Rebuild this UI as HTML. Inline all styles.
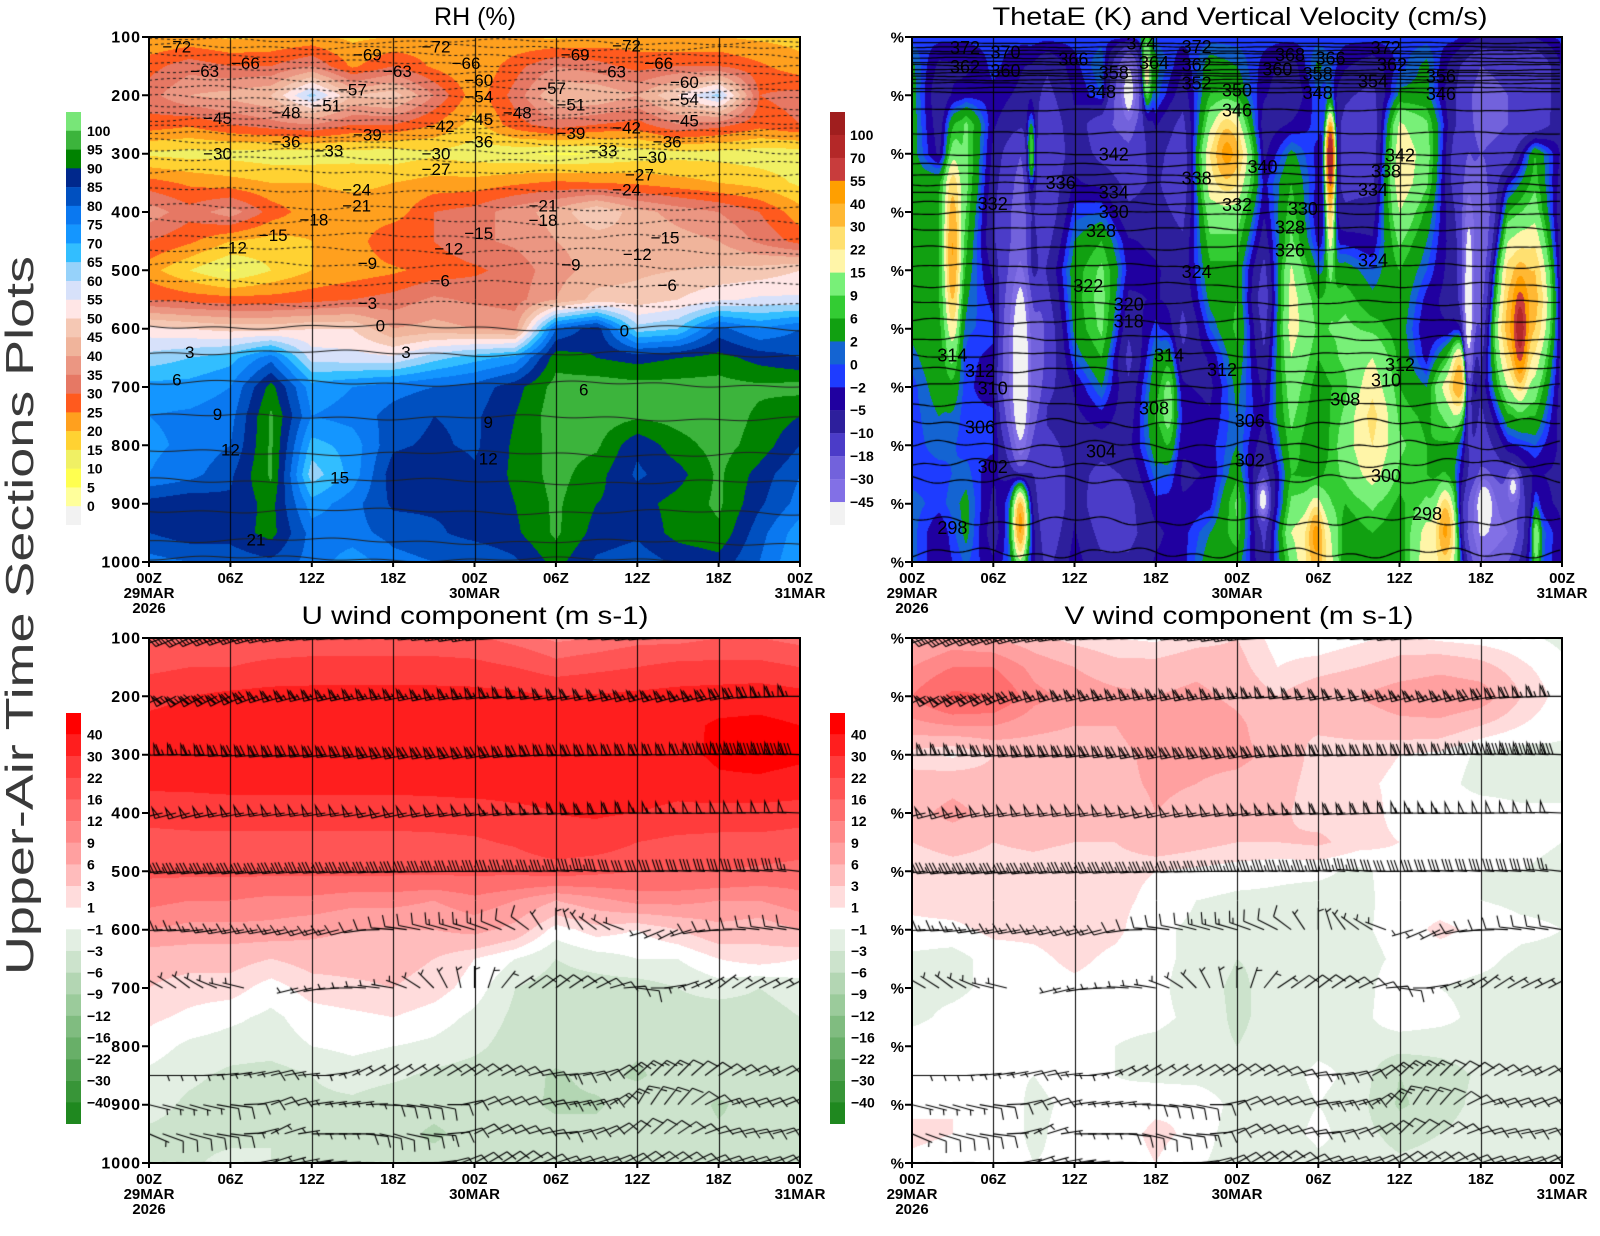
<!DOCTYPE html>
<html><head><meta charset="utf-8">
<style>
html,body{margin:0;padding:0;background:#fff}
#wrap{position:relative;width:1600px;height:1236px;overflow:hidden;background:#fff}
canvas{position:absolute}
svg{position:absolute;left:0;top:0}
text{font-family:"Liberation Sans",Arial,sans-serif;fill:#000}
.tk{font-weight:bold;font-size:16px;letter-spacing:1px}
.pc{font-weight:bold;font-size:15px}
.xl{font-weight:bold;font-size:15px}
.cb{font-weight:bold;font-size:14px}
.cl{font-size:17px}
.th{font-size:18px}
.ti{font-size:25px}
</style></head><body><div id="wrap">
<canvas id="c1" width="651" height="525" style="left:149px;top:37px"></canvas>
<canvas id="c2" width="650" height="525" style="left:912px;top:37px"></canvas>
<canvas id="c3" width="651" height="525" style="left:149px;top:638px"></canvas>
<canvas id="c4" width="650" height="525" style="left:912px;top:638px"></canvas>
<svg width="1600" height="1236" viewBox="0 0 1600 1236">
<g fill="none" stroke="#000" stroke-width="2">
<rect x="149" y="37" width="651" height="525"/>
<rect x="912" y="37" width="650" height="525"/>
<rect x="149" y="638" width="651" height="525"/>
<rect x="912" y="638" width="650" height="525"/>
</g>
<g stroke="#000" stroke-width="2">
<path d="M142,37h7M142,95.3h7M142,153.7h7M142,212h7M142,270.3h7M142,328.7h7M142,387h7M142,445.3h7M142,503.7h7M142,562h7"/>
<path d="M905,37h7M905,95.3h7M905,153.7h7M905,212h7M905,270.3h7M905,328.7h7M905,387h7M905,445.3h7M905,503.7h7M905,562h7"/>
<path d="M142,638h7M142,696.3h7M142,754.7h7M142,813h7M142,871.3h7M142,929.7h7M142,988h7M142,1046.3h7M142,1104.7h7M142,1163h7"/>
<path d="M905,638h7M905,696.3h7M905,754.7h7M905,813h7M905,871.3h7M905,929.7h7M905,988h7M905,1046.3h7M905,1104.7h7M905,1163h7"/>
<path d="M149,562v5M230.4,562v5M311.8,562v5M393.1,562v5M474.5,562v5M555.9,562v5M637.3,562v5M718.6,562v5M800,562v5"/>
<path d="M912,562v5M993.3,562v5M1074.5,562v5M1155.8,562v5M1237,562v5M1318.3,562v5M1399.5,562v5M1480.8,562v5M1562,562v5"/>
<path d="M149,1163v5M230.4,1163v5M311.8,1163v5M393.1,1163v5M474.5,1163v5M555.9,1163v5M637.3,1163v5M718.6,1163v5M800,1163v5"/>
<path d="M912,1163v5M993.3,1163v5M1074.5,1163v5M1155.8,1163v5M1237,1163v5M1318.3,1163v5M1399.5,1163v5M1480.8,1163v5M1562,1163v5"/>
</g>
<g>
<rect x="66" y="112" width="15" height="19" fill="#78e678"/><rect x="66" y="130.77" width="15" height="19" fill="#3cb43c"/><rect x="66" y="149.55" width="15" height="19" fill="#008200"/><rect x="66" y="168.32" width="15" height="19" fill="#00288c"/><rect x="66" y="187.09" width="15" height="19" fill="#0050c0"/><rect x="66" y="205.86" width="15" height="19" fill="#0a78f0"/><rect x="66" y="224.64" width="15" height="19" fill="#1496ff"/><rect x="66" y="243.41" width="15" height="19" fill="#32beff"/><rect x="66" y="262.18" width="15" height="19" fill="#96d2fa"/><rect x="66" y="280.95" width="15" height="19" fill="#d7e1fa"/><rect x="66" y="299.73" width="15" height="19" fill="#ffe6e6"/><rect x="66" y="318.5" width="15" height="19" fill="#f5c8b4"/><rect x="66" y="337.27" width="15" height="19" fill="#f0b49b"/><rect x="66" y="356.05" width="15" height="19" fill="#eb9682"/><rect x="66" y="374.82" width="15" height="19" fill="#e67864"/><rect x="66" y="393.59" width="15" height="19" fill="#ff5a1e"/><rect x="66" y="412.36" width="15" height="19" fill="#ffa01e"/><rect x="66" y="431.14" width="15" height="19" fill="#ffd232"/><rect x="66" y="449.91" width="15" height="19" fill="#f0f064"/><rect x="66" y="468.68" width="15" height="19" fill="#ffff50"/><rect x="66" y="487.45" width="15" height="19" fill="#ffff9b"/><rect x="66" y="506.23" width="15" height="18.77" fill="#f2f2f2"/>
</g>
<g>
<rect x="830" y="112" width="15" height="23.1" fill="#a01e1e"/><rect x="830" y="134.94" width="15" height="23.1" fill="#b42828"/><rect x="830" y="157.89" width="15" height="23.1" fill="#c83c3c"/><rect x="830" y="180.83" width="15" height="23.1" fill="#ff9f00"/><rect x="830" y="203.78" width="15" height="23.1" fill="#ffb833"/><rect x="830" y="226.72" width="15" height="23.1" fill="#ffe070"/><rect x="830" y="249.67" width="15" height="23.1" fill="#fff5a8"/><rect x="830" y="272.61" width="15" height="23.1" fill="#78f078"/><rect x="830" y="295.56" width="15" height="23.1" fill="#33cc33"/><rect x="830" y="318.5" width="15" height="23.1" fill="#11a011"/><rect x="830" y="341.44" width="15" height="23.1" fill="#1464d2"/><rect x="830" y="364.39" width="15" height="23.1" fill="#1e3cff"/><rect x="830" y="387.33" width="15" height="23.1" fill="#2000a0"/><rect x="830" y="410.28" width="15" height="23.1" fill="#2d1f9c"/><rect x="830" y="433.22" width="15" height="23.1" fill="#4b3cc8"/><rect x="830" y="456.17" width="15" height="23.1" fill="#7262dc"/><rect x="830" y="479.11" width="15" height="23.1" fill="#8270e6"/><rect x="830" y="502.06" width="15" height="22.94" fill="#f2f2f2"/>
</g>
<g>
<rect x="66" y="713" width="15" height="21.8" fill="#ff0000"/><rect x="66" y="734.63" width="15" height="21.8" fill="#ff1e1e"/><rect x="66" y="756.26" width="15" height="21.8" fill="#ff3c3c"/><rect x="66" y="777.89" width="15" height="21.8" fill="#ff5555"/><rect x="66" y="799.53" width="15" height="21.8" fill="#ff6e6e"/><rect x="66" y="821.16" width="15" height="21.8" fill="#ff8888"/><rect x="66" y="842.79" width="15" height="21.8" fill="#ffa0a0"/><rect x="66" y="864.42" width="15" height="21.8" fill="#ffbcbc"/><rect x="66" y="886.05" width="15" height="21.8" fill="#ffdcdc"/><rect x="66" y="907.68" width="15" height="21.8" fill="#ffffff"/><rect x="66" y="929.32" width="15" height="21.8" fill="#e3efe3"/><rect x="66" y="950.95" width="15" height="21.8" fill="#cce3cc"/><rect x="66" y="972.58" width="15" height="21.8" fill="#b3d6b3"/><rect x="66" y="994.21" width="15" height="21.8" fill="#9bcb9b"/><rect x="66" y="1015.84" width="15" height="21.8" fill="#80bc80"/><rect x="66" y="1037.47" width="15" height="21.8" fill="#68af68"/><rect x="66" y="1059.11" width="15" height="21.8" fill="#50a150"/><rect x="66" y="1080.74" width="15" height="21.8" fill="#389538"/><rect x="66" y="1102.37" width="15" height="21.63" fill="#1f881f"/>
</g>
<g transform="translate(764,0)">
<rect x="66" y="713" width="15" height="21.8" fill="#ff0000"/><rect x="66" y="734.63" width="15" height="21.8" fill="#ff1e1e"/><rect x="66" y="756.26" width="15" height="21.8" fill="#ff3c3c"/><rect x="66" y="777.89" width="15" height="21.8" fill="#ff5555"/><rect x="66" y="799.53" width="15" height="21.8" fill="#ff6e6e"/><rect x="66" y="821.16" width="15" height="21.8" fill="#ff8888"/><rect x="66" y="842.79" width="15" height="21.8" fill="#ffa0a0"/><rect x="66" y="864.42" width="15" height="21.8" fill="#ffbcbc"/><rect x="66" y="886.05" width="15" height="21.8" fill="#ffdcdc"/><rect x="66" y="907.68" width="15" height="21.8" fill="#ffffff"/><rect x="66" y="929.32" width="15" height="21.8" fill="#e3efe3"/><rect x="66" y="950.95" width="15" height="21.8" fill="#cce3cc"/><rect x="66" y="972.58" width="15" height="21.8" fill="#b3d6b3"/><rect x="66" y="994.21" width="15" height="21.8" fill="#9bcb9b"/><rect x="66" y="1015.84" width="15" height="21.8" fill="#80bc80"/><rect x="66" y="1037.47" width="15" height="21.8" fill="#68af68"/><rect x="66" y="1059.11" width="15" height="21.8" fill="#50a150"/><rect x="66" y="1080.74" width="15" height="21.8" fill="#389538"/><rect x="66" y="1102.37" width="15" height="21.63" fill="#1f881f"/>
</g>
<g class="cb">
<text x="87" y="135.8">100</text><text x="87" y="154.5">95</text><text x="87" y="173.3">90</text><text x="87" y="192.1">85</text><text x="87" y="210.9">80</text><text x="87" y="229.6">75</text><text x="87" y="248.4">70</text><text x="87" y="267.2">65</text><text x="87" y="285.9">60</text><text x="87" y="304.7">55</text><text x="87" y="323.5">50</text><text x="87" y="342.2">45</text><text x="87" y="361">40</text><text x="87" y="379.8">35</text><text x="87" y="398.5">30</text><text x="87" y="417.3">25</text><text x="87" y="436.1">20</text><text x="87" y="454.9">15</text><text x="87" y="473.6">10</text><text x="87" y="492.4">5</text><text x="87" y="511.2">0</text>
</g>
<g class="cb">
<text x="850" y="139.9">100</text><text x="850" y="162.9">70</text><text x="850" y="185.8">55</text><text x="850" y="208.8">40</text><text x="850" y="231.7">30</text><text x="850" y="254.6">22</text><text x="850" y="277.6">15</text><text x="850" y="300.5">9</text><text x="850" y="323.5">6</text><text x="850" y="346.4">2</text><text x="850" y="369.3">0</text><text x="850" y="392.3">−2</text><text x="850" y="415.2">−5</text><text x="850" y="438.2">−10</text><text x="850" y="461.1">−18</text><text x="850" y="484">−30</text><text x="850" y="507">−45</text>
</g>
<g class="cb">
<text x="87" y="739.6">40</text><text x="87" y="761.3">30</text><text x="87" y="782.9">22</text><text x="87" y="804.5">16</text><text x="87" y="826.2">12</text><text x="87" y="847.8">9</text><text x="87" y="869.4">6</text><text x="87" y="891">3</text><text x="87" y="912.7">1</text><text x="87" y="934.3">−1</text><text x="87" y="955.9">−3</text><text x="87" y="977.6">−6</text><text x="87" y="999.2">−9</text><text x="87" y="1020.8">−12</text><text x="87" y="1042.5">−16</text><text x="87" y="1064.1">−22</text><text x="87" y="1085.7">−30</text><text x="87" y="1107.3">−40</text>
</g>
<g class="cb">
<text x="851" y="739.6">40</text><text x="851" y="761.3">30</text><text x="851" y="782.9">22</text><text x="851" y="804.5">16</text><text x="851" y="826.2">12</text><text x="851" y="847.8">9</text><text x="851" y="869.4">6</text><text x="851" y="891">3</text><text x="851" y="912.7">1</text><text x="851" y="934.3">−1</text><text x="851" y="955.9">−3</text><text x="851" y="977.6">−6</text><text x="851" y="999.2">−9</text><text x="851" y="1020.8">−12</text><text x="851" y="1042.5">−16</text><text x="851" y="1064.1">−22</text><text x="851" y="1085.7">−30</text><text x="851" y="1107.3">−40</text>
</g>
<g class="tk" text-anchor="end">
<text x="141" y="42.5">100</text><text x="141" y="100.8">200</text><text x="141" y="159.2">300</text><text x="141" y="217.5">400</text><text x="141" y="275.8">500</text><text x="141" y="334.2">600</text><text x="141" y="392.5">700</text><text x="141" y="450.8">800</text><text x="141" y="509.2">900</text><text x="141" y="567.5">1000</text>
<text x="141" y="643.5">100</text><text x="141" y="701.8">200</text><text x="141" y="760.2">300</text><text x="141" y="818.5">400</text><text x="141" y="876.8">500</text><text x="141" y="935.2">600</text><text x="141" y="993.5">700</text><text x="141" y="1051.8">800</text><text x="141" y="1110.2">900</text><text x="141" y="1168.5">1000</text>
</g>
<g class="pc" text-anchor="end">
<text x="904" y="42.5">%</text><text x="904" y="100.8">%</text><text x="904" y="159.2">%</text><text x="904" y="217.5">%</text><text x="904" y="275.8">%</text><text x="904" y="334.2">%</text><text x="904" y="392.5">%</text><text x="904" y="450.8">%</text><text x="904" y="509.2">%</text><text x="904" y="567.5">%</text>
<text x="904" y="643.5">%</text><text x="904" y="701.8">%</text><text x="904" y="760.2">%</text><text x="904" y="818.5">%</text><text x="904" y="876.8">%</text><text x="904" y="935.2">%</text><text x="904" y="993.5">%</text><text x="904" y="1051.8">%</text><text x="904" y="1110.2">%</text><text x="904" y="1168.5">%</text>
</g>
<g class="xl" text-anchor="middle">
<text x="149" y="583">00Z</text><text x="230.4" y="583">06Z</text><text x="311.8" y="583">12Z</text><text x="393.1" y="583">18Z</text><text x="474.5" y="583">00Z</text><text x="555.9" y="583">06Z</text><text x="637.3" y="583">12Z</text><text x="718.6" y="583">18Z</text><text x="800" y="583">00Z</text>
<text x="149" y="598">29MAR</text><text x="149" y="613">2026</text><text x="474.5" y="598">30MAR</text><text x="800" y="598">31MAR</text>
<text x="912" y="583">00Z</text><text x="993.3" y="583">06Z</text><text x="1074.5" y="583">12Z</text><text x="1155.8" y="583">18Z</text><text x="1237" y="583">00Z</text><text x="1318.3" y="583">06Z</text><text x="1399.5" y="583">12Z</text><text x="1480.8" y="583">18Z</text><text x="1562" y="583">00Z</text>
<text x="912" y="598">29MAR</text><text x="912" y="613">2026</text><text x="1237" y="598">30MAR</text><text x="1562" y="598">31MAR</text>
<text x="149" y="1184">00Z</text><text x="230.4" y="1184">06Z</text><text x="311.8" y="1184">12Z</text><text x="393.1" y="1184">18Z</text><text x="474.5" y="1184">00Z</text><text x="555.9" y="1184">06Z</text><text x="637.3" y="1184">12Z</text><text x="718.6" y="1184">18Z</text><text x="800" y="1184">00Z</text>
<text x="149" y="1199">29MAR</text><text x="149" y="1214">2026</text><text x="474.5" y="1199">30MAR</text><text x="800" y="1199">31MAR</text>
<text x="912" y="1184">00Z</text><text x="993.3" y="1184">06Z</text><text x="1074.5" y="1184">12Z</text><text x="1155.8" y="1184">18Z</text><text x="1237" y="1184">00Z</text><text x="1318.3" y="1184">06Z</text><text x="1399.5" y="1184">12Z</text><text x="1480.8" y="1184">18Z</text><text x="1562" y="1184">00Z</text>
<text x="912" y="1199">29MAR</text><text x="912" y="1214">2026</text><text x="1237" y="1199">30MAR</text><text x="1562" y="1199">31MAR</text>
</g>
<g class="ti" text-anchor="middle">
<text x="475" y="25" textLength="82" lengthAdjust="spacingAndGlyphs">RH (%)</text>
<text x="1240" y="25" textLength="495" lengthAdjust="spacingAndGlyphs">ThetaE (K) and Vertical Velocity (cm/s)</text>
<text x="475" y="624" textLength="347" lengthAdjust="spacingAndGlyphs">U wind component (m s-1)</text>
<text x="1239" y="624" textLength="349" lengthAdjust="spacingAndGlyphs">V wind component (m s-1)</text>
</g>
<text transform="translate(33,975) rotate(-90)" font-size="39" textLength="719" lengthAdjust="spacingAndGlyphs" style="fill:#3a3a3a">Upper-Air Time Sections Plots</text>
<g class="cl" text-anchor="middle">
<text x="176.8" y="52.7">−72</text><text x="245.4" y="68.9">−66</text><text x="204.7" y="76.8">−63</text><text x="367.4" y="60.3">−69</text><text x="352.4" y="95.5">−57</text><text x="326.7" y="111.4">−51</text><text x="286" y="118.3">−48</text><text x="217.5" y="124.2">−45</text><text x="397.4" y="76.8">−63</text><text x="436" y="52.7">−72</text><text x="466" y="68.9">−66</text><text x="478.8" y="86.2">−60</text><text x="478.8" y="102.4">−54</text><text x="478.8" y="125.2">−45</text><text x="478.8" y="147.3">−36</text><text x="440.2" y="132.1">−42</text><text x="367.4" y="140.4">−39</text><text x="286" y="147.3">−36</text><text x="328.9" y="156.3">−33</text><text x="217.5" y="159.7">−30</text><text x="436" y="159.7">−30</text><text x="436" y="175">−27</text><text x="356.7" y="195.7">−24</text><text x="356.7" y="211.6">−21</text><text x="313.9" y="225.4">−18</text><text x="273.2" y="240.9">−15</text><text x="232.5" y="253.7">−12</text><text x="367.4" y="269.2">−9</text><text x="440.2" y="286.5">−6</text><text x="367.4" y="309">−3</text><text x="380.3" y="331.4">0</text><text x="189.7" y="358">3</text><text x="406" y="358">3</text><text x="176.8" y="385.6">6</text><text x="217.5" y="420.2">9</text><text x="230.4" y="455.7">12</text><text x="339.6" y="483.4">15</text><text x="256" y="545.6">21</text><text x="488.2" y="428">9</text><text x="488.2" y="464.4">12</text>
<text x="575.2" y="60.3">−69</text><text x="626.6" y="51.6">−72</text><text x="658.7" y="68.9">−66</text><text x="611.6" y="77.5">−63</text><text x="684.4" y="87.9">−60</text><text x="551.6" y="94.1">−57</text><text x="684.4" y="105.2">−54</text><text x="570.9" y="110.4">−51</text><text x="517.3" y="118.3">−48</text><text x="684.4" y="126.6">−45</text><text x="626.6" y="133.5">−42</text><text x="570.9" y="139">−39</text><text x="667.2" y="147.3">−36</text><text x="603" y="156.3">−33</text><text x="652.3" y="163.2">−30</text><text x="639.4" y="180.5">−27</text><text x="626.6" y="195.7">−24</text><text x="543" y="211.6">−21</text><text x="543" y="226">−18</text><text x="478.8" y="239.2">−15</text><text x="665.1" y="243.3">−15</text><text x="448.8" y="254.4">−12</text><text x="637.3" y="259.9">−12</text><text x="570.9" y="270.3">−9</text><text x="667.2" y="291">−6</text><text x="624.4" y="336.6">0</text><text x="583.7" y="395.3">6</text>
</g>
<g class="th" text-anchor="middle">
<text x="965" y="53.9">372</text><text x="1005.5" y="58.5">370</text><text x="965" y="73">362</text><text x="1005.5" y="77.1">360</text><text x="1073.4" y="65.3">366</text><text x="1113.8" y="79.2">358</text><text x="1141.4" y="49.4">374</text><text x="1154" y="68.8">364</text><text x="1196.6" y="52.9">372</text><text x="1196.6" y="71.2">362</text><text x="1196.6" y="89.6">352</text><text x="1101" y="97.9">348</text><text x="1237" y="96.5">350</text><text x="1237" y="116.3">346</text><text x="1290" y="60.8">368</text><text x="1330.5" y="64.3">366</text><text x="1277.4" y="75.7">360</text><text x="1317.7" y="79.9">358</text><text x="1317.7" y="98.9">348</text><text x="1385.7" y="53.9">372</text><text x="1392" y="71.2">362</text><text x="1373" y="87.5">354</text><text x="1440.9" y="82.7">356</text><text x="1440.9" y="100">346</text>
<text x="1113.8" y="160.3">342</text><text x="1262.5" y="172.8">340</text><text x="1400" y="161.3">342</text><text x="1196.6" y="184.5">338</text><text x="1386" y="177.6">338</text><text x="1060.7" y="189">336</text><text x="1113.8" y="198.4">334</text><text x="1373" y="196">334</text><text x="992.7" y="209.8">332</text><text x="1237" y="210.9">332</text><text x="1113.8" y="217.8">330</text><text x="1302.9" y="215">330</text><text x="1101" y="236.9">328</text><text x="1290" y="233.4">328</text><text x="1290" y="256.6">326</text><text x="1196.6" y="278.1">324</text><text x="1373" y="266.3">324</text><text x="1088.3" y="292">322</text><text x="1128.7" y="310.3">320</text><text x="1128.7" y="327.7">318</text><text x="952.4" y="361.3">314</text><text x="1169" y="361.3">314</text><text x="980" y="377.2">312</text><text x="1222" y="376.2">312</text><text x="1400" y="371">312</text><text x="992.7" y="394.6">310</text><text x="1386" y="386.6">310</text><text x="1154" y="414.3">308</text><text x="1345.3" y="405.7">308</text><text x="980" y="433.4">306</text><text x="1249.8" y="427.1">306</text><text x="1101" y="457.6">304</text><text x="992.7" y="473.2">302</text><text x="1249.8" y="466.3">302</text><text x="1386" y="481.9">300</text><text x="952.4" y="533.9">298</text><text x="1427" y="520.1">298</text>
</g>
</svg>
</div>
<script>
(function(){
function hx(h){return [parseInt(h.slice(1,3),16),parseInt(h.slice(3,5),16),parseInt(h.slice(5,7),16)];}
function gi(g,t,p){
 var nR=g.length,nC=g[0].length;
 var fr=(p-100)/900*(nR-1); if(fr<0)fr=0; if(fr>nR-1)fr=nR-1;
 var r0=Math.floor(fr); if(r0>nR-2)r0=nR-2; var a=fr-r0;
 var fc=t/48*(nC-1); if(fc<0)fc=0; if(fc>nC-1)fc=nC-1;
 var c0=Math.floor(fc); if(c0>nC-2)c0=nC-2; var b=fc-c0;
 return (g[r0][c0]*(1-b)+g[r0][c0+1]*b)*(1-a)+(g[r0+1][c0]*(1-b)+g[r0+1][c0+1]*b)*a;
}
function field(id,fn,lev,col){
 var cv=document.getElementById(id),ctx=cv.getContext('2d');
 var W=cv.width,H=cv.height,img=ctx.createImageData(W,H),d=img.data;
 var cc=col.map(hx);
 for(var j=0;j<H;j++){var p=100+(j+0.5)/H*900;
  for(var i=0;i<W;i++){var t=(i+0.5)/W*48;var v=fn(t,p);
   var k=0;while(k<lev.length&&v>=lev[k])k++;
   var c=cc[k],o=(j*W+i)*4;d[o]=c[0];d[o+1]=c[1];d[o+2]=c[2];d[o+3]=255;}}
 ctx.putImageData(img,0,0);
 return ctx;
}
function vgrid(ctx,W,H){ctx.save();ctx.strokeStyle='#000';ctx.lineWidth=1;ctx.setLineDash([]);ctx.beginPath();
 for(var k=1;k<8;k++){var x=Math.round(k*W/8)+0.5;ctx.moveTo(x,0);ctx.lineTo(x,H);}ctx.stroke();ctx.restore();}

var RH=[
[20,21,19,20,21,19,20,22,21,20,19,21,22,20,20,19,18],
[28,33,30,30,35,24,30,24,20,28,35,32,28,30,30,26,22],
[33,40,42,45,62,45,48,35,22,32,45,45,40,50,62,30,32],
[28,26,30,33,35,30,30,25,18,28,33,30,28,35,32,27,30],
[14,13,13,12,12,13,12,14,12,11,9,10,12,13,13,12,12],
[27,24,22,20,20,19,20,22,22,24,26,25,24,22,20,18,14],
[38,32,38,28,22,22,22,30,32,38,42,50,42,38,35,30,22],
[30,26,20,18,20,22,30,30,34,36,40,42,44,42,40,34,28],
[22,15,9,15,20,22,24,27,29,32,38,42,44,45,46,47,50],
[30,28,27,27,28,30,32,36,34,33,40,47,47,50,54,56,56],
[52,50,48,48,50,50,40,42,40,38,80,88,62,65,82,75,80],
[62,65,68,78,58,57,56,63,68,72,93,90,88,90,92,88,85],
[72,72,75,92,72,75,78,80,82,88,97,98,97,97,97,96,97],
[75,76,78,96,75,77,82,85,84,90,98,98,96,97,98,94,90],
[74,76,80,96,68,72,84,86,84,91,97,96,86,93,97,93,85],
[75,78,84,96,62,72,88,90,86,91,97,92,84,88,96,88,80],
[87,89,86,92,72,78,86,86,86,90,96,90,88,92,96,86,78],
[85,88,87,92,78,78,82,84,87,89,96,88,86,92,94,82,72],
[78,80,82,84,78,72,78,80,80,84,92,84,82,86,88,80,70]];

var U=[
[15,15,17,17,17,17,17,17,17,14,11,12,14,14,16,16,14],
[20,22,22,24,25,25,25,25,24,22,18,20,22,24,24,24,22],
[28,30,32,33,33,33,33,33,33,32,30,31,32,33,34,35,33],
[32,33,34,35,35,35,35,35,35,35,34,35,35,36,42,43,40],
[33,34,35,35,35,35,35,35,36,36,35,36,36,37,42,44,42],
[32,32,33,33,33,33,33,33,34,34,33,34,34,33,38,38,36],
[24,25,25,25,25,25,25,26,26,28,30,31,30,28,26,26,25],
[20,20,20,20,20,20,20,20,21,23,28,26,22,20,20,20,19],
[17,17,17,17,17,17,17,17,17,17,18,17,16,16,16,15,14],
[13,12,12,11,11,10,10,9,11,9,6,8,10,10,9,9,11],
[9,8,8,8,7,6,6,6,7,5,0,2,1,3,5,4,6],
[4,4,4,3,4,4,4,3,1,-1,-3,-2,-1,-1,1,2,1],
[3,2,2,0,2,2.5,3,2,0,-3,-4,-4,-4,-3,-2,-3,-2],
[1.5,0.5,-0.5,-1.5,0,0.5,1,0,-1.5,-3.5,-4,-5,-4.5,-4,-4.5,-4,-3],
[0,-1.5,-2,-2,-1,-0.5,-1,-1.5,-2.5,-4,-4.5,-5,-5.5,-4,-4,-3.5,-3.5],
[-1.5,-2.5,-3.5,-4,-3,-2,-2.5,-3.5,-4,-4.5,-6.5,-5,-6.5,-4.5,-4,-3.5,-4],
[-2,-3.5,-4,-4,-3.5,-3.5,-4.5,-5,-5,-5,-6.5,-6.5,-4,-4,-6.5,-4.5,-4.5],
[-3.5,-4,-4,-3,-3.5,-4,-5,-6.5,-5,-5,-5,-5,-4,-4.5,-5.5,-5,-4.5],
[-3.5,-3.5,-2,-3,-3.5,-4,-6,-5,-4.5,-4.5,-4.5,-5,-4,-3.5,-4.5,-5,-4]];

var V=[
[5,7,6,4,2,1,0.5,2,3,0,-0.5,0.5,1.5,0.5,0,-0.5,-1.5],
[9,12,12,8,6,4,4,5,4,1,2,3,4,5,4,1.5,-0.5],
[12,17,16,10,8,7,6,7,5,3,5,6,8,9,8,3,0],
[8,9,9,7,6,6,8,9,7,3,3.5,4,5,5,3,1,-0.5],
[2,0.5,3,4,4,5,7,7,7,5,2,2,1,0.5,-1.5,-2,-1.5],
[4,5,4,4,4,5,6.5,6,5,4,2,1.5,0.5,0,-2,-2,-1],
[5,7,5,4,4,4,6,5,4,3.5,2,2.5,0,0.5,0.5,-0.5,-1],
[3,4,3,3.5,3,3,5,4,3,3,3.5,2,1,0,-1,-0.5,-1],
[1.5,2,2,2,1.5,1.5,1,0.5,0,-0.5,-0.5,-1.5,0,-0.5,-1,-1,-1.5],
[1.5,2,2,1.5,2,1.5,0.5,-1,-1.5,-1.5,-2,-2,0.5,0,-1,-1.5,-1.5],
[0.5,0.5,1.5,1.5,2,1.5,-0.5,-1.5,-2,-2.5,-2.5,-1.5,0,1.5,0.5,-0.5,-1],
[-1.5,-2,0,0.5,1.5,0.5,-0.5,-1.5,-3,-2.5,-3,-2,-0.5,0,-0.5,-1.5,-1.5],
[-1.5,-1.5,-0.5,0,0.5,0,-0.5,-2,-3.5,-2,-3,-2,0.5,-1,-1.5,-1.5,-1],
[-1.5,-0.5,0,0,0,-0.5,-0.5,-1.5,-3.5,-2,-2.5,-1.5,0,-0.5,-1.5,-1.5,-1],
[0,0,0,-0.5,0,-1,-1.5,-2,-3,-2,-1.5,-1.5,-2,-2,-1.5,-1.5,-2],
[0,0,-0.5,-1,0,-1,-1.5,-2,-2.5,-2,-0.5,-1.5,-6,-4.5,-2.5,-1.5,-2.5],
[0.5,1,0.5,-1.5,-0.5,-0.5,0.5,1,-2,-2,-1,-2,-6.5,-4.5,-2,-1.5,-2],
[1.5,1,0.5,-1.5,0,0,1.5,0.5,-2.5,-2,-0.5,-2,-4,-3,-1.5,-1,-2],
[0.5,0,0.5,-1,-0.5,0,1,-0.5,-2.5,-3,-1.5,-1.5,-2.5,-2,-1.5,-1.5,-2.5]];

var TEc=[
[-1,3,4,4,4,4,4,4,4,4,3,1,-1,-1,-1,-1,1,1,1],
[-1,-4,-6,-5,-4,5,5,5,5,5,5,5,4,2,1,-1,-1,-3,-3],
[-1,-4,-2,10,10,10,8,6,4,2,0.5,-1,-1,-1,-1,1,3,3,0.5],
[-1,-1,-2,-3,-4,-5,-6,-6,-4,-2,-1,-2,-3,-1,-1,-3,-4,-5,-3],
[-1,-3,-4,-6,-12,-14,-15,-15,-18,-25,-30,-30,-30,-25,-15,-5,3,5,3],
[-1,-6,-8,-10,-12,-10,-10,-8,-6,-8,-10,-10,-8,-6,-8,-10,-12,-10,-8],
[-1,-2,-3,-4,-4,-3,-1,2,4,4,3,0,-3,-4,-5,-5,-4,-3,-2],
[-1,2,0,-10,-8,-4,0,6,10,11,10,6,2,-2,-5,-8,-10,-8,-6],
[-1,-20,-25,-15,-10,-8,-6,-3,-2,-4,-6,-8,-6,-5,-4,-6,-8,-8,-6],
[-1,3,1,-3,-5,-6,-5,-4,-3,-3,-1,3,5,6,4,1,-2,-4,-3],
[-1,-3,-5,-8,-10,-10,-8,-6,-5,-6,-8,-6,-3,-2,-3,-4,-3,-2,-2],
[-1,4,6,12,20,18,12,8,5,3,0,-3,-4,-3,-2,-3,-2,2,4],
[-1,2,5,16,28,20,12,8,5,6,7,5,3,2,2,5,10,8,4],
[-1,-2,-3,-5,-4,-2,-3,-5,-8,-10,-8,-6,-4,-3,-5,-8,-10,-8,-6],
[-1,-5,-6,-3,3,6,8,10,16,18,18,15,12,10,8,6,10,15,10],
[-1,3,0,-1,-2,-2,-3,-2,1,6,8,6,4,3,2,5,12,25,30],
[-1,-3,-6,-8,-8,-8,-6,-2,4,8,10,10,8,10,12,10,6,3,2],
[-1,-5,-8,-10,-10,-8,-5,-3,0,3,8,15,20,25,22,18,10,6,4],
[-1,-1,3,16,20,20,15,10,6,5,4,5,6,8,10,8,5,3,2],
[-1,3,3,10,12,10,5,2,0,-2,-3,-2,2,5,6,6,10,18,20],
[-1,-5,-6,-6,-8,-8,-6,-5,-5,-5,-3,10,25,12,5,2,5,10,12],
[-3,-12,-15,-14,-12,-15,-20,-20,-18,-15,-12,-8,-6,-8,-10,-12,-25,-30,-20],
[-3,-10,-12,-12,-10,-2,6,15,25,30,35,25,15,5,-2,-8,-15,-20,-12],
[-3,-12,-12,-10,6,8,12,20,30,35,30,20,12,6,0,-3,-2,3,2],
[-1,-3,-3,-4,-4,-5,-6,-6,-6,-5,-5,-5,-5,-5,-4,-4,-4,-3,-3]];
var TE=[];for(var r=0;r<19;r++){TE.push(TEc.map(function(c){var v=c[r];return v<-1.5?v*1.5:v;}));}
var TF=[[3.0,470,0.55,150,35],[8.0,676,0.5,130,-45],[8.0,930,0.5,60,40],[8.8,300,0.35,60,22],[8.9,500,0.5,230,10],
[17.3,165,0.4,60,28],[16.0,190,0.35,40,-35],[19.0,720,0.6,110,10],[23.2,293,0.8,60,20],[30.9,300,0.3,50,75],[30.9,360,0.35,110,40],
[25.9,893,0.35,25,-50],[41.1,560,0.32,150,-55],[42.3,900,0.5,35,-40],[44.4,870,0.4,25,-40],[44.9,605,0.5,80,50],
[40.5,680,0.5,60,25],[39.4,940,0.6,60,30],[46.1,960,0.3,60,10],[29.8,950,0.5,50,20]];
function te(t,p){var v=gi(TE,t,p);for(var i=0;i<TF.length;i++){var f=TF[i];var a=(t-f[0])/f[2],b=(p-f[1])/f[3];var e=a*a+b*b;if(e<9)v+=f[4]*Math.exp(-e);}return v;}

var RHL=[0,5,10,15,20,25,30,35,40,45,50,55,60,65,70,75,80,85,90,95,100];
var RHC=['#f2f2f2','#ffff9b','#ffff50','#f0f064','#ffd232','#ffa01e','#ff5a1e','#e67864','#eb9682','#f0b49b','#f5c8b4','#ffe6e6','#d7e1fa','#96d2fa','#32beff','#1496ff','#0a78f0','#0050c0','#00288c','#008200','#3cb43c','#78e678'];
var TEL=[-45,-30,-18,-10,-5,-2,0,2,6,9,15,22,30,40,55,70,100];
var TEC=['#f2f2f2','#8270e6','#7262dc','#4b3cc8','#2d1f9c','#2000a0','#1e3cff','#1464d2','#11a011','#33cc33','#78f078','#fff5a8','#ffe070','#ffb833','#ff9f00','#c83c3c','#b42828','#a01e1e'];
var UVL=[-40,-30,-22,-16,-12,-9,-6,-3,-1,1,3,6,9,12,16,22,30,40];
var UVC=['#1f881f','#389538','#50a150','#68af68','#80bc80','#9bcb9b','#b3d6b3','#cce3cc','#e3efe3','#ffffff','#ffdcdc','#ffbcbc','#ffa0a0','#ff8888','#ff6e6e','#ff5555','#ff3c3c','#ff1e1e','#ff0000'];

function mapY(m,v){for(var i=0;i<m.length-1;i++){if(v>=m[i][0]&&v<=m[i+1][0]){var f=(v-m[i][0])/(m[i+1][0]-m[i][0]);return m[i][1]+f*(m[i+1][1]-m[i][1]);}}return m[m.length-1][1];}

try{
 var c1=field('c1',function(t,p){return gi(RH,t,p);},RHL,RHC);
 var W=651,H=525;
 var TY=[[-75,3],[-72,9],[-69,17],[-66,25],[-63,33],[-60,43],[-57,51],[-54,60],[-51,68],[-48,75],[-45,82],[-42,90],[-39,97],[-36,104],[-33,112],[-30,121],[-27,134],[-24,153],[-21,169],[-18,183],[-15,198],[-12,212],[-9,227],[-6,245],[-3,266],[0,289],[3,315],[6,345],[9,379],[12,415],[15,443],[18,473],[21,503],[24,521]];
 c1.lineWidth=1;
 for(var T=-75;T<=24;T+=3){
  var base=mapY(TY,T);
  c1.strokeStyle=T<0?'#1a1a1a':'#222';
  c1.setLineDash(T<0?[3,3]:[]);
  c1.beginPath();
  for(var x=0;x<=W;x+=3){var y=base+1.8*Math.sin(x*0.02+T*0.37)+1.2*Math.sin(x*0.07+T*1.1)+(x/W)*3;
   if(x===0)c1.moveTo(x,y);else c1.lineTo(x,y);}
  c1.stroke();
 }
 c1.setLineDash([]);
 vgrid(c1,W,H);
}catch(e){}

try{
 var c2=field('c2',te,TEL,TEC);
 var W2=650,H2=525;
 var QY=[[296,516],[298,484],[300,442],[302,426],[304,408],[306,386],[308,366],[310,348],[312,333],[314,318],[316,301],[318,284],[320,266],[322,248],[324,229],[326,211],[328,192],[330,176],[332,166],[334,156],[336,147],[338,138],[340,128],[342,117],[344,96],[346,73],[348,55],[350,51],[352,46],[354,43],[356,39],[358,36],[360,33],[362,28],[364,25],[366,21],[368,17],[370,14],[372,10],[374,6]];
 c2.strokeStyle='#000';c2.lineWidth=1.2;
 for(var q=296;q<=374;q+=2){
  var b2=mapY(QY,q);var amp=b2<60?0.8:(0.8+(b2/525)*4);var hf=b2>380?0.5:0.25;
  c2.beginPath();
  for(var x2=0;x2<=W2;x2+=3){var y2=b2+amp*(0.7*Math.sin(x2*0.04+q*0.9)+hf*Math.sin(x2*0.12+q*2.3));
   if(x2===0)c2.moveTo(x2,y2);else c2.lineTo(x2,y2);}
  c2.stroke();
 }
 vgrid(c2,W2,H2);
}catch(e){}

function barb(ctx,x,y,u,v){
 var s=Math.sqrt(u*u+v*v);var kt=Math.round(s*1.944/5)*5;if(kt<5)return;
 var dx=-u/s,dy=v/s,px=-dy,py=dx,L=22,F=11;
 var tx=x+dx*L,ty=y+dy*L;
 ctx.beginPath();ctx.moveTo(x,y);ctx.lineTo(tx,ty);
 var n50=Math.floor(kt/50);kt-=n50*50;var n10=Math.floor(kt/10);kt-=n10*10;var n5=kt>=5?1:0;
 var pos=0;
 for(var i=0;i<n50;i++){var ax=tx-dx*pos,ay=ty-dy*pos;ctx.moveTo(ax,ay);ctx.lineTo(ax+px*F,ay+py*F);ctx.lineTo(ax-dx*5,ay-dy*5);pos+=6;}
 for(var k=0;k<n10;k++){var bx=tx-dx*pos,by=ty-dy*pos;ctx.moveTo(bx,by);ctx.lineTo(bx+px*F+dx*4,by+py*F+dy*4);pos+=3.5;}
 if(n5){if(pos===0)pos=3.5;var cx=tx-dx*pos,cy=ty-dy*pos;ctx.moveTo(cx,cy);ctx.lineTo(cx+px*F*0.5+dx*2,cy+py*F*0.5+dy*2);}
 ctx.stroke();
}
function barbs(ctx,W,H){
 var lv=[100,200,300,400,500,600,700,850,900,950,1000];
 ctx.save();ctx.strokeStyle='#000';ctx.lineWidth=1.1;ctx.setLineDash([]);
 for(var i=0;i<lv.length;i++){var p=lv[i],y=(p-100)/900*H;
  for(var h=0;h<=48;h++){var x=h/48*W;barb(ctx,x,y,gi(U,h,p),gi(V,h,p));}}
 ctx.restore();
}
try{var c3=field('c3',function(t,p){return gi(U,t,p);},UVL,UVC);vgrid(c3,651,525);barbs(c3,651,525);}catch(e){}
try{var c4=field('c4',function(t,p){return gi(V,t,p);},UVL,UVC);vgrid(c4,650,525);barbs(c4,650,525);}catch(e){}
})();
</script>
</body></html>
